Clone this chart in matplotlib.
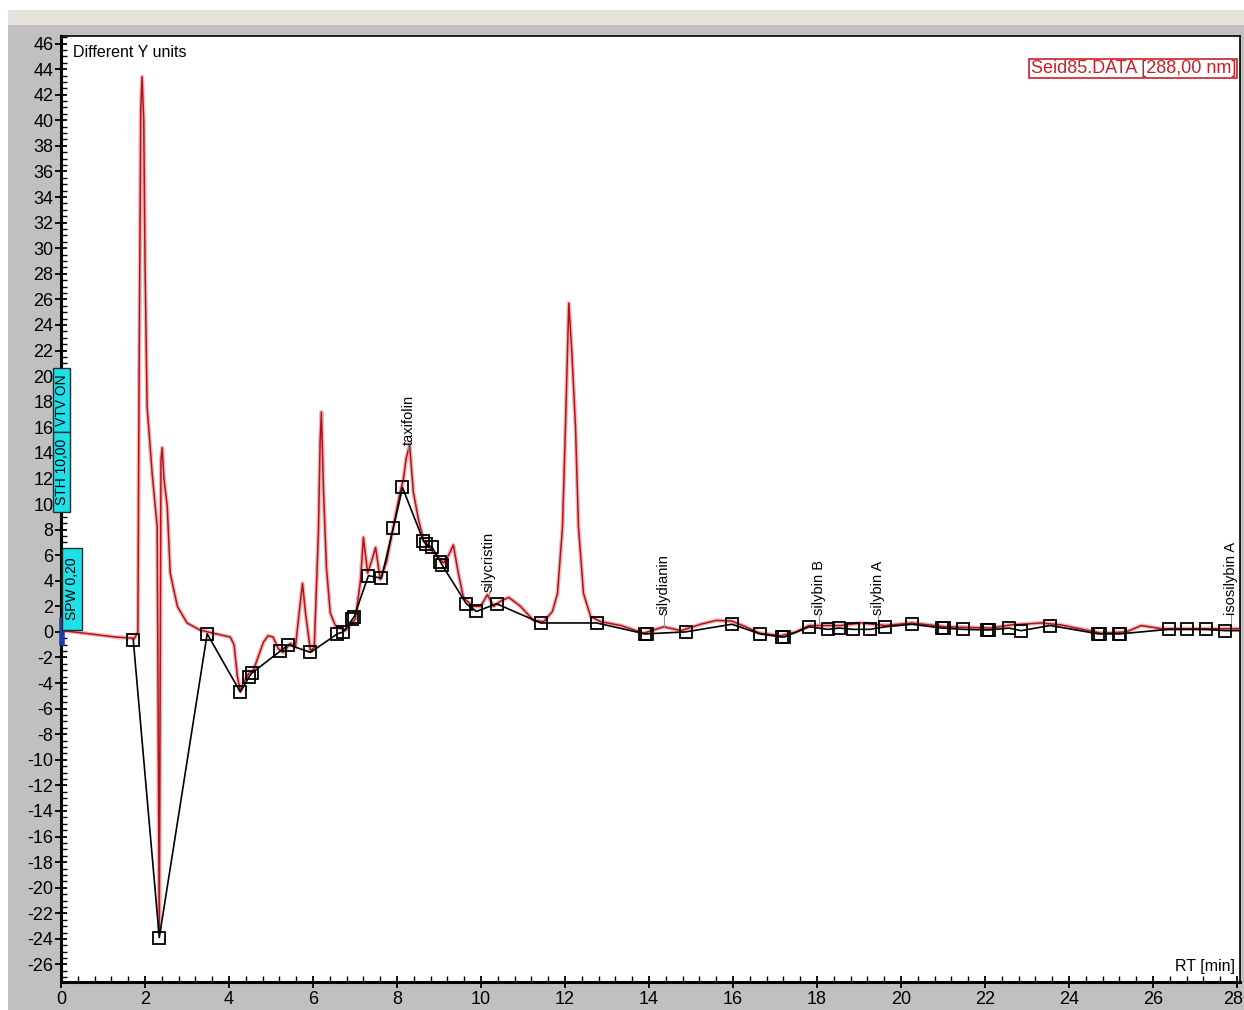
import numpy as np
import matplotlib.pyplot as plt
import matplotlib.transforms as mtransforms
from matplotlib.patches import Rectangle
from matplotlib.ticker import MultipleLocator

plt.rcParams['font.family'] = ['Liberation Sans', 'DejaVu Sans']
plt.rcParams['axes.unicode_minus'] = False

# red chromatogram trace (RT in min, signal)
rt = [0.0, 0.3, 0.8, 1.3, 1.75, 1.83, 1.86, 1.9, 1.93, 1.97, 2.0, 2.05, 2.17, 2.29, 2.34,
      2.38, 2.41, 2.45, 2.53, 2.6, 2.77, 3.0, 3.31, 3.62, 4.03, 4.12, 4.2, 4.27, 4.34, 4.46,
      4.58, 4.82, 4.93, 5.05, 5.17, 5.29, 5.46, 5.58, 5.67, 5.75, 5.82, 5.94, 6.03, 6.13,
      6.17, 6.2, 6.25, 6.32, 6.41, 6.53, 6.77, 7.01, 7.13, 7.2, 7.3, 7.39, 7.49, 7.6, 7.75,
      7.91, 8.08, 8.15, 8.22, 8.3, 8.39, 8.51, 8.63, 8.87, 9.11, 9.23, 9.34, 9.46, 9.58,
      9.8, 9.99, 10.15, 10.3, 10.46, 10.66, 10.94, 11.25, 11.49, 11.7, 11.82, 11.94, 12.01,
      12.09, 12.16, 12.25, 12.32, 12.44, 12.61, 12.85, 13.33, 13.87, 14.35, 14.76, 15.23,
      15.6, 15.97, 16.3, 16.64, 17.14, 17.5, 17.81, 18.57, 19.05, 19.62, 20.26, 21.07,
      22.15, 22.62, 23.34, 23.8, 24.4, 24.77, 25.36, 25.72, 26.2, 28.1]
sig = [0.1, 0.0, -0.2, -0.4, -0.5, 0.0, 20.5, 41.0, 43.4, 40.0, 29.0, 17.6, 12.4, 8.2, -23.5,
       13.5, 14.4, 12.0, 9.8, 4.6, 2.0, 0.7, 0.15, -0.1, -0.4, -1.0, -3.5, -4.6, -4.0, -3.3,
       -3.0, -0.8, -0.3, -0.4, -1.3, -1.6, -0.9, -1.2, 1.5, 3.8, 1.5, -1.5, -1.2, 8.0,
       15.0, 17.2, 11.0, 5.0, 1.5, 0.5, 0.1, 1.0, 4.0, 7.4, 4.6, 5.5, 6.6, 4.1, 5.5,
       8.2, 11.0, 11.9, 13.6, 14.6, 10.9, 8.8, 7.2, 6.2, 5.4, 6.0, 6.8, 4.6, 2.7,
       2.0, 2.0, 2.9, 2.0, 2.4, 2.7, 2.0, 0.9, 0.8, 1.6, 3.0, 8.2, 16.0,
       25.7, 22.0, 16.0, 8.2, 3.0, 1.2, 0.8, 0.5, -0.1, 0.4, 0.1, 0.6,
       0.9, 0.85, 0.4, -0.1, -0.3, 0.0, 0.5, 0.5, 0.7, 0.5, 0.7, 0.4,
       0.3, 0.55, 0.7, 0.55, 0.15, -0.1, 0.0, 0.5, 0.25, 0.25]

# black line with square markers
pt_x = [1.72, 2.34, 3.48, 4.27, 4.48, 4.55, 5.22, 5.41, 5.94, 6.58, 6.72, 6.94, 6.98, 7.32,
        7.63, 7.91, 8.13, 8.63, 8.68, 8.84, 9.03, 9.08, 9.65, 9.89, 10.37, 11.42, 12.75,
        13.9, 13.94, 14.87, 15.97, 16.64, 17.17, 17.22, 17.81, 18.26, 18.52, 18.86, 19.26,
        19.62, 20.26, 20.98, 21.02, 21.48, 22.05, 22.09, 22.57, 22.86, 23.55, 24.7, 24.74,
        25.18, 25.22, 26.37, 26.82, 27.25, 27.72, 28.1]
pt_y = [-0.6, -23.9, -0.15, -4.7, -3.5, -3.2, -1.5, -1.0, -1.6, -0.15, 0.0, 1.0, 1.2, 4.4,
        4.2, 8.1, 11.3, 7.1, 6.9, 6.6, 5.5, 5.2, 2.2, 1.6, 2.2, 0.7, 0.7,
        -0.15, -0.15, 0.0, 0.6, -0.15, -0.4, -0.4, 0.4, 0.2, 0.3, 0.2, 0.2,
        0.4, 0.6, 0.3, 0.3, 0.2, 0.15, 0.15, 0.3, 0.1, 0.5, -0.15, -0.15,
        -0.15, -0.15, 0.2, 0.2, 0.2, 0.1, 0.1]
pt_mark = [i for i in range(len(pt_x) - 1)]

peaks = ['taxifolin', 'silycristin', 'silydianin', 'silybin B', 'silybin A', 'isosilybin A']
peak_rt = [8.27, 10.18, 14.35, 18.05, 19.45, 27.85]

fig = plt.figure(figsize=(12.44, 10.10), dpi=100)
fig.patch.set_facecolor('#c0c0c0')
# window chrome at the top / left
fig.patches.append(Rectangle((0, 1 - 25 / 1010), 1, 25 / 1010, transform=fig.transFigure,
                             facecolor='#e6e3de', edgecolor='none', zorder=0))
fig.patches.append(Rectangle((0, 1 - 10 / 1010), 1, 10 / 1010, transform=fig.transFigure,
                             facecolor='white', edgecolor='none', zorder=0))
fig.patches.append(Rectangle((0, 0), 8 / 1244, 1, transform=fig.transFigure,
                             facecolor='white', edgecolor='none', zorder=0))

ax = fig.add_axes([61 / 1244, 28 / 1010, 1179 / 1244, 946 / 1010])
ax.set_xlim(0, 28.07)
ax.set_ylim(-27.37, 46.59)

ax.plot(rt, sig, color='#f2b8b8', lw=3.0, zorder=2)
ax.plot(rt, sig, color='#b3121a', lw=1.1, zorder=3)
ax.plot(pt_x, pt_y, color='black', lw=1.2, marker='s', markersize=8,
        markerfacecolor='none', markeredgecolor='black', markeredgewidth=1.3,
        markevery=pt_mark, zorder=4)
ax.plot([0.02, 0.02], [-0.9, 0.9], color='#1a3aa8', lw=4, zorder=5, clip_on=False)

for name, x in zip(peaks, peak_rt):
    yp = np.interp(x, rt, sig)
    yt = max(yp + 0.4, 1.3)
    ax.plot([x, x], [yp, yt], color='#909090', lw=0.8, zorder=3)
    ax.text(x, yt, name, rotation=90, ha='center', va='bottom', fontsize=10.5, zorder=6)

ax.text(0.0102, 0.991, 'Different Y units', transform=ax.transAxes, ha='left', va='top',
        fontsize=11.5)
ax.text(0.9958, 0.008, 'RT [min]', transform=ax.transAxes, ha='right', va='bottom',
        fontsize=11.5)
ax.text(0.9966, 0.9657, 'Seid85.DATA [288,00 nm]', transform=ax.transAxes, ha='right',
        va='center', fontsize=13, color='#c8202a',
        bbox=dict(boxstyle='square,pad=0.08', facecolor='white', edgecolor='#c8202a', lw=1.2))

ax.xaxis.set_major_locator(MultipleLocator(2))
ax.xaxis.set_minor_locator(MultipleLocator(0.4))
ax.yaxis.set_major_locator(MultipleLocator(2))
ax.yaxis.set_minor_locator(MultipleLocator(0.5))
ax.tick_params(axis='both', which='major', direction='inout', length=9, width=1.3,
               labelsize=13, pad=2)
ax.tick_params(axis='both', which='minor', direction='in', length=4, width=1.0)
ax.tick_params(axis='y', pad=1)
for s in ['left', 'bottom']:
    ax.spines[s].set_linewidth(2.2)
for s in ['top', 'right']:
    ax.spines[s].set_linewidth(1.2)

# keep the last x label inside the window
fig.canvas.draw()
for lab in ax.get_xticklabels():
    if lab.get_text() == '28':
        lab.set_transform(lab.get_transform() +
                          mtransforms.ScaledTranslation(-4 / 100, 0, fig.dpi_scale_trans))

# instrument event boxes on the left edge
boxes = [('VTV ON', 61.5, 400, 17, 64), ('STH 10,00', 61.5, 472, 17, 80),
         ('SPW 0,20', 72, 589, 20, 82)]
for label, cx, cy, w, h in boxes:
    fig.patches.append(Rectangle(((cx - w / 2) / 1244, 1 - (cy + h / 2) / 1010), w / 1244,
                                 h / 1010, transform=fig.transFigure, facecolor='#1ee0e8',
                                 edgecolor='#203030', lw=1.0, zorder=10))
    fig.text(cx / 1244, 1 - cy / 1010, label, rotation=90, ha='center', va='center',
             fontsize=10, zorder=11)

fig.savefig('out.png', dpi=100, facecolor=fig.get_facecolor())
